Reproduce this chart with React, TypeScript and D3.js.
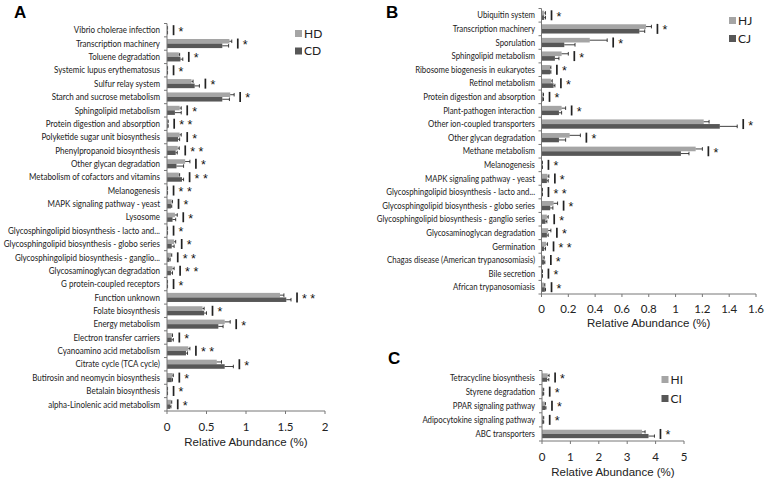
import React from "react";
import * as d3 from "d3";

// ---------- Panel A ----------
const labelsA = [
  "Vibrio cholerae infection",
  "Transcription machinery",
  "Toluene degradation",
  "Systemic lupus erythematosus",
  "Sulfur relay system",
  "Starch and sucrose metabolism",
  "Sphingolipid metabolism",
  "Protein digestion and absorption",
  "Polyketide sugar unit biosynthesis",
  "Phenylpropanoid biosynthesis",
  "Other glycan degradation",
  "Metabolism of cofactors and vitamins",
  "Melanogenesis",
  "MAPK signaling pathway - yeast",
  "Lysosome",
  "Glycosphingolipid biosynthesis  - lacto and...",
  "Glycosphingolipid biosynthesis  - globo series",
  "Glycosphingolipid biosynthesis  - ganglio...",
  "Glycosaminoglycan degradation",
  "G protein-coupled receptors",
  "Function unknown",
  "Folate biosynthesis",
  "Energy metabolism",
  "Electron transfer carriers",
  "Cyanoamino acid metabolism",
  "Citrate cycle (TCA cycle)",
  "Butirosin and neomycin biosynthesis",
  "Betalain biosynthesis",
  "alpha-Linolenic acid metabolism",
];
const hdA = [0.005, 0.79, 0.15, 0.005, 0.31, 0.8, 0.16, 0.01, 0.16, 0.135, 0.23, 0.15, 0.005, 0.06, 0.1, 0.005, 0.09, 0.05, 0.07, 0.005, 1.43, 0.45, 0.73, 0.06, 0.27, 0.63, 0.07, 0.005, 0.05];
const hdErrA = [0.002, 0.03, 0.01, 0.002, 0.02, 0.05, 0.02, 0.005, 0.02, 0.02, 0.06, 0.01, 0.002, 0.01, 0.03, 0.002, 0.02, 0.01, 0.02, 0.002, 0.05, 0.02, 0.07, 0.01, 0.02, 0.06, 0.01, 0.002, 0.01];
const cdA = [0.005, 0.7, 0.17, 0.005, 0.35, 0.7, 0.1, 0.01, 0.14, 0.11, 0.12, 0.19, 0.005, 0.05, 0.07, 0.005, 0.06, 0.03, 0.05, 0.005, 1.51, 0.47, 0.65, 0.06, 0.24, 0.73, 0.06, 0.005, 0.04];
const cdErrA = [0.002, 0.08, 0.03, 0.002, 0.06, 0.09, 0.08, 0.005, 0.02, 0.02, 0.09, 0.02, 0.002, 0.01, 0.04, 0.002, 0.03, 0.01, 0.02, 0.002, 0.06, 0.03, 0.06, 0.02, 0.02, 0.11, 0.01, 0.002, 0.01];
const sigA = ["*", "*", "*", "*", "*", "*", "*", "**", "*", "**", "*", "**", "**", "*", "*", "*", "*", "**", "**", "*", "**", "*", "*", "*", "**", "*", "*", "*", "*"];
const ticksA = [0, 0.5, 1, 1.5, 2];

// ---------- Panel B ----------
const labelsB = [
  "Ubiquitin system",
  "Transcription machinery",
  "Sporulation",
  "Sphingolipid metabolism",
  "Ribosome biogenesis in eukaryotes",
  "Retinol metabolism",
  "Protein digestion and absorption",
  "Plant-pathogen interaction",
  "Other ion-coupled transporters",
  "Other glycan degradation",
  "Methane metabolism",
  "Melanogenesis",
  "MAPK signaling pathway - yeast",
  "Glycosphingolipid biosynthesis  - lacto and...",
  "Glycosphingolipid biosynthesis  - globo series",
  "Glycosphingolipid biosynthesis  - ganglio series",
  "Glycosaminoglycan degradation",
  "Germination",
  "Chagas disease (American trypanosomiasis)",
  "Bile secretion",
  "African trypanosomiasis",
];
const hjB = [0.02, 0.78, 0.36, 0.15, 0.065, 0.07, 0.01, 0.15, 1.21, 0.21, 1.15, 0.005, 0.045, 0.005, 0.09, 0.04, 0.05, 0.035, 0.015, 0.005, 0.02];
const hjErrB = [0.01, 0.04, 0.13, 0.05, 0.005, 0.01, 0.005, 0.03, 0.04, 0.08, 0.05, 0.002, 0.01, 0.002, 0.03, 0.01, 0.02, 0.01, 0.005, 0.002, 0.005];
const cjB = [0.02, 0.73, 0.17, 0.1, 0.065, 0.09, 0.01, 0.13, 1.33, 0.13, 1.04, 0.005, 0.04, 0.005, 0.065, 0.03, 0.04, 0.02, 0.02, 0.005, 0.025];
const cjErrB = [0.01, 0.04, 0.08, 0.03, 0.005, 0.01, 0.005, 0.02, 0.13, 0.05, 0.06, 0.002, 0.01, 0.002, 0.02, 0.01, 0.01, 0.01, 0.005, 0.002, 0.005];
const sigB = ["*", "*", "*", "*", "*", "*", "*", "*", "*", "*", "*", "*", "*", "**", "*", "*", "*", "**", "*", "*", "*"];
const ticksB = [0, 0.2, 0.4, 0.6, 0.8, 1, 1.2, 1.4, 1.6];

// ---------- Panel C ----------
const labelsC = [
  "Tetracycline biosynthesis",
  "Styrene degradation",
  "PPAR signaling pathway",
  "Adipocytokine signaling pathway",
  "ABC transporters",
];
const hiC = [0.2, 0.05, 0.1, 0.05, 3.52];
const hiErrC = [0.05, 0.01, 0.02, 0.01, 0.11];
const ciC = [0.18, 0.05, 0.12, 0.05, 3.75];
const ciErrC = [0.06, 0.01, 0.02, 0.01, 0.21];
const sigC = ["*", "*", "*", "*", "*"];
const ticksC = [0, 1, 2, 3, 4, 5];

const LIGHT = "#a5a5a5";
const DARK = "#575757";
const LABEL_FONT = "Lato, 'Open Sans', sans-serif";
const TITLE_FONT = "'Liberation Sans', Arial, sans-serif";

type PanelProps = {
  labels: string[];
  h: number[];
  hErr: number[];
  c: number[];
  cErr: number[];
  sig: string[];
  ticks: number[];
  xDomain: [number, number];
  xRange: [number, number];
  yRange: [number, number];
  labelX: number;
  labelSize: number;
  tickY: number;
  titleY: number;
  letter: string;
  letterPos: [number, number];
  legendNames: [string, string];
  legendPos: [number, number, number];
  barFrac: number;
};

function Panel(p: PanelProps) {
  const x = d3.scaleLinear().domain(p.xDomain).range(p.xRange);
  const y = d3.scaleBand<string>().domain(p.labels).range(p.yRange).paddingInner(0).paddingOuter(0);
  const bw = y.bandwidth();
  const barH = bw * p.barFrac;
  const axisY = p.yRange[1];
  const x0 = p.xRange[0];
  const bounds = d3.range(p.labels.length + 1).map((i) => p.yRange[0] + i * bw);
  return (
    <g>
      <text x={p.letterPos[0]} y={p.letterPos[1]} fontFamily={TITLE_FONT} fontWeight="bold" fontSize={17}>
        {p.letter}
      </text>
      {p.labels.map((lab, i) => {
        const cy = (y(lab) as number) + bw / 2;
        const top = cy - barH;
        const hEnd = x(p.h[i] + p.hErr[i]);
        const cEnd = x(p.c[i] + p.cErr[i]);
        const mx = Math.max(hEnd, cEnd, x(Math.max(p.h[i], p.c[i]))) + 6;
        return (
          <g key={lab}>
            <text
              transform={`translate(${p.labelX},${cy + 3.2}) scale(0.87,1)`}
              textAnchor="end"
              fontFamily={LABEL_FONT}
              fontSize={p.labelSize}
              fill="#222"
            >
              {lab}
            </text>
            <rect x={x0} y={top} width={x(p.h[i]) - x0} height={barH} fill={LIGHT} />
            <rect x={x0} y={cy} width={x(p.c[i]) - x0} height={barH} fill={DARK} />
            <line x1={x(p.h[i])} x2={hEnd} y1={top + barH / 2} y2={top + barH / 2} stroke="#111" strokeWidth={0.8} />
            <line x1={hEnd} x2={hEnd} y1={top + 0.5} y2={top + barH - 0.5} stroke="#111" strokeWidth={0.8} />
            <line x1={x(p.c[i])} x2={cEnd} y1={cy + barH / 2} y2={cy + barH / 2} stroke="#111" strokeWidth={0.8} />
            <line x1={cEnd} x2={cEnd} y1={cy + 0.5} y2={cy + barH - 0.5} stroke="#111" strokeWidth={0.8} />
            <line x1={mx} x2={mx} y1={cy - 5} y2={cy + 5} stroke="#222" strokeWidth={1.7} />
            <text x={mx + 5} y={cy + 5.5} fontFamily={TITLE_FONT} fontSize={12.5} fill="#111">
              {p.sig[i] === "**" ? "* *" : "*"}
            </text>
          </g>
        );
      })}
      {/* y axis */}
      <line x1={x0} x2={x0} y1={p.yRange[0]} y2={axisY} stroke="#777" strokeWidth={1} />
      {bounds.map((b, i) => (
        <line key={"yt" + i} x1={x0 - 3} x2={x0} y1={b} y2={b} stroke="#777" strokeWidth={1} />
      ))}
      {/* x axis */}
      <line x1={x0} x2={p.xRange[1]} y1={axisY} y2={axisY} stroke="#777" strokeWidth={1} />
      {p.ticks.map((t) => (
        <g key={"xt" + t}>
          <line x1={x(t)} x2={x(t)} y1={axisY} y2={axisY + 3} stroke="#777" strokeWidth={1} />
          <text x={x(t)} y={p.tickY} textAnchor="middle" fontFamily={LABEL_FONT} fontSize={11.5} fill="#222">
            {String(t)}
          </text>
        </g>
      ))}
      <text x={(p.xRange[0] + p.xRange[1]) / 2} y={p.titleY} textAnchor="middle" fontFamily={TITLE_FONT} fontSize={11.5} fill="#222">
        Relative Abundance (%)
      </text>
      {/* legend */}
      {p.legendNames.map((n, i) => (
        <g key={n}>
          <rect x={p.legendPos[0]} y={p.legendPos[1] + i * p.legendPos[2]} width={7} height={7} fill={i === 0 ? LIGHT : DARK} />
          <text x={p.legendPos[0] + 9} y={p.legendPos[1] + i * p.legendPos[2] + 7.5} fontFamily={LABEL_FONT} fontSize={12} fill="#222">
            {n}
          </text>
        </g>
      ))}
    </g>
  );
}

export default function App() {
  return (
    <svg width={765} height={481} style={{ position: "absolute", left: 0, top: 0, background: "#fff" }}>
      <rect width={765} height={481} fill="#fff" />
      <Panel
        labels={labelsA}
        h={hdA}
        hErr={hdErrA}
        c={cdA}
        cErr={cdErrA}
        sig={sigA}
        ticks={ticksA}
        xDomain={[0, 2]}
        xRange={[167, 325]}
        yRange={[23.5, 411]}
        labelX={160}
        labelSize={9.2}
        tickY={431}
        titleY={446}
        letter="A"
        letterPos={[14, 18]}
        legendNames={["HD", "CD"]}
        legendPos={[295, 30, 17.5]}
        barFrac={0.34}
      />
      <Panel
        labels={labelsB}
        h={hjB}
        hErr={hjErrB}
        c={cjB}
        cErr={cjErrB}
        sig={sigB}
        ticks={ticksB}
        xDomain={[0, 1.6]}
        xRange={[541.5, 756]}
        yRange={[8.5, 294]}
        labelX={535}
        labelSize={9}
        tickY={313}
        titleY={327}
        letter="B"
        letterPos={[386, 18]}
        legendNames={["HJ", "CJ"]}
        legendPos={[729, 17, 18]}
        barFrac={0.34}
      />
      <Panel
        labels={labelsC}
        h={hiC}
        hErr={hiErrC}
        c={ciC}
        cErr={ciErrC}
        sig={sigC}
        ticks={ticksC}
        xDomain={[0, 5]}
        xRange={[542, 684]}
        yRange={[370.5, 441]}
        labelX={535}
        labelSize={9}
        tickY={461}
        titleY={476}
        letter="C"
        letterPos={[388, 364]}
        legendNames={["HI", "CI"]}
        legendPos={[661.5, 376, 19]}
        barFrac={0.3}
      />
    </svg>
  );
}
